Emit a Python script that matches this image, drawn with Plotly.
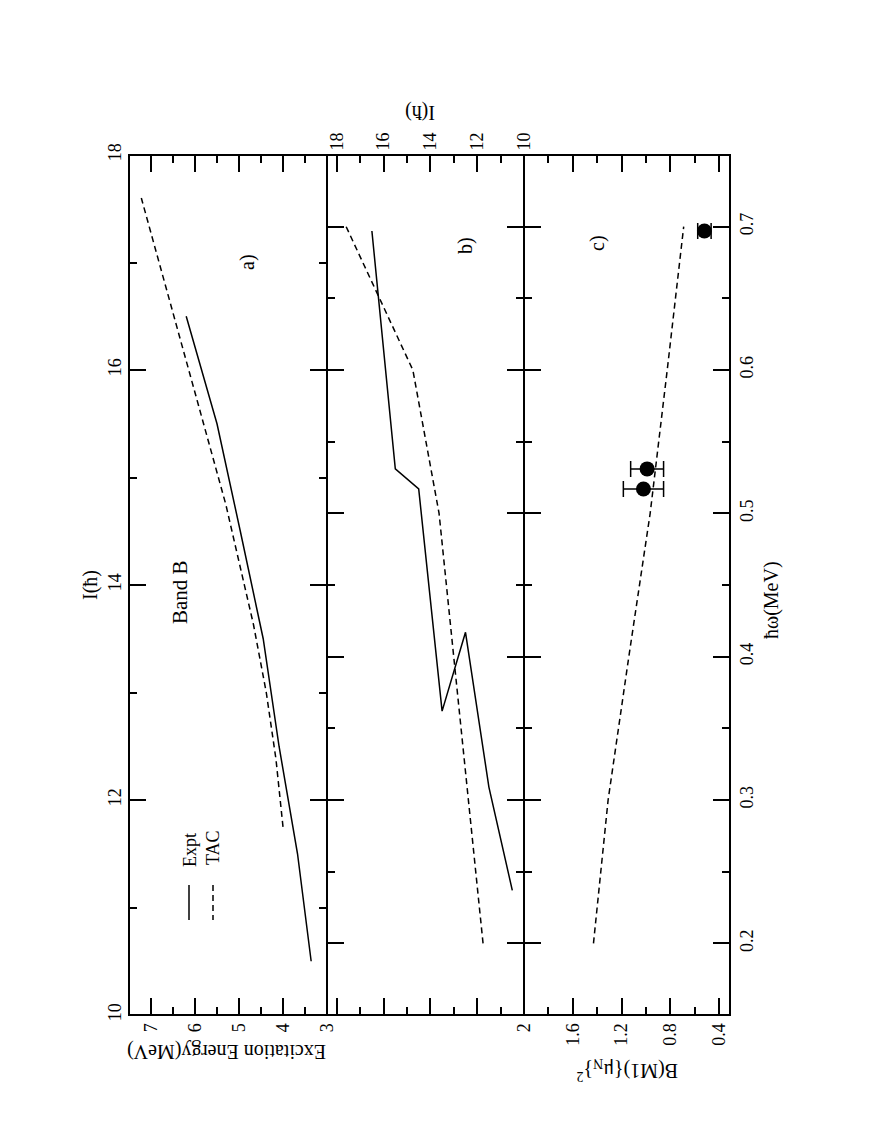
import plotly.graph_objects as go

# ---------------- data ----------------
# Experimental band B
expt_I = [10.5, 11.5, 12.5, 13.5, 14.5, 15.5, 16.5]
expt_E = [3.36, 3.67, 4.09, 4.45, 4.97, 5.50, 6.20]
expt_hw = [0.237, 0.309, 0.417, 0.362, 0.517, 0.531, 0.697]

# TAC calculation
tac_hw = [0.2, 0.3, 0.4, 0.5, 0.6, 0.7]
tac_I = [11.75, 12.38, 13.0, 13.63, 14.75, 17.6]
tac_E = [4.0, 4.16, 4.38, 4.67, 5.30, 7.22]
tac_B = [1.43, 1.31, 1.14, 0.965, 0.825, 0.69]

# Measured B(M1)
bm1_hw = [0.517, 0.531, 0.697]
bm1_B = [1.02, 0.99, 0.52]
bm1_err = [0.165, 0.135, 0.055]

# tick labels
E_ticks = [3, 4, 5, 6, 7]
I_ticks = [10, 12, 14, 16, 18]
B_ticks = [0.4, 0.8, 1.2, 1.6, 2.0]
B_text = ["0.4", "0.8", "1.2", "1.6", "2"]
hw_ticks = [0.2, 0.3, 0.4, 0.5, 0.6, 0.7]

FONT = "Liberation Serif, Times New Roman, serif"
W, H = 884, 1144
OFF = 8  # page body margin of the browser
# frame edges in screenshot pixels
L, R, T, B = 129, 730, 155, 1015


def px(x):
    return (x - L) / (R - L)


def py(y):
    return (B - y) / (B - T)


fig = go.Figure()
solid = dict(color="black", width=1.5)
dashed = dict(color="black", width=1.5, dash="6px,4px")

# panel a: excitation energy vs I
fig.add_trace(go.Scatter(x=expt_E, y=expt_I, mode="lines", line=solid, xaxis="x", yaxis="y"))
fig.add_trace(go.Scatter(x=tac_E, y=tac_I, mode="lines", line=dashed, xaxis="x", yaxis="y"))
# panel b: I vs hw
fig.add_trace(go.Scatter(x=expt_I, y=expt_hw, mode="lines", line=solid, xaxis="x2", yaxis="y2"))
fig.add_trace(go.Scatter(x=tac_I, y=tac_hw, mode="lines", line=dashed, xaxis="x2", yaxis="y2"))
# panel c: B(M1) vs hw
fig.add_trace(go.Scatter(x=tac_B, y=tac_hw, mode="lines", line=dashed, xaxis="x3", yaxis="y3"))
fig.add_trace(go.Scatter(x=bm1_B, y=bm1_hw, mode="markers",
                         marker=dict(color="black", size=15),
                         error_x=dict(type="data", array=bm1_err, color="black",
                                      thickness=1.5, width=8),
                         xaxis="x3", yaxis="y3"))

axcommon = dict(showline=True, linecolor="black", linewidth=1, mirror="ticks",
                ticks="inside", ticklen=17, tickwidth=1.5, tickcolor="black",
                showgrid=False, zeroline=False, tickangle=-90, automargin=False,
                tickfont=dict(family=FONT, size=18, color="black"))


def minor(vals):
    return dict(ticks="inside", ticklen=8, tickwidth=1.5, tickcolor="black",
                tickmode="array", tickvals=vals, showgrid=False)


d1 = px(327)
d2 = px(524)

fig.update_layout(
    width=W, height=H,
    margin=dict(l=L - OFF, r=W - R + OFF, t=T - OFF, b=H - B + OFF, autoexpand=False),
    paper_bgcolor="white", plot_bgcolor="white",
    showlegend=False,
    font=dict(family=FONT, size=20, color="black"),
    xaxis=dict(axcommon, domain=[0, d1], range=[3 + (327 - L) / 44.0, 3],
               anchor="y", side="bottom", tickmode="array", tickvals=E_ticks,
               minor=minor([3.5, 4.5, 5.5, 6.5])),
    yaxis=dict(axcommon, domain=[0, 1], range=[10, 18], anchor="x", side="left",
               tickmode="array", tickvals=I_ticks, minor=minor([11, 13, 15, 17])),
    xaxis2=dict(axcommon, domain=[d1, d2], range=[10 + (524 - 327) / 23.4, 10],
                anchor="y2", side="top", tickmode="array", tickvals=I_ticks,
                minor=minor([11, 13, 15, 17])),
    yaxis2=dict(axcommon, domain=[0, 1], range=[0.15, 0.75], anchor="x2",
                tickmode="array", tickvals=hw_ticks, showticklabels=False,
                minor=minor([0.25, 0.35, 0.45, 0.55, 0.65])),
    xaxis3=dict(axcommon, domain=[d2, 1], range=[2, 2 - (R - 524) / 121.9],
                anchor="y3", side="bottom", tickmode="array", tickvals=B_ticks,
                ticktext=B_text, minor=minor([0.6, 1.0, 1.4, 1.8])),
    yaxis3=dict(axcommon, domain=[0, 1], range=[0.15, 0.75], anchor="x3",
                side="right", tickmode="array", tickvals=hw_ticks,
                minor=minor([0.25, 0.35, 0.45, 0.55, 0.65])),
)

ann = []


def text(s, x, y, angle=-90, size=20):
    ann.append(dict(text=s, x=px(x), y=py(y), xref="paper", yref="paper",
                    xanchor="center", yanchor="middle",
                    showarrow=False, textangle=angle,
                    font=dict(family=FONT, size=size, color="black")))


text("a)", 247, 262)
text("b)", 466, 245)
text("c)", 597, 243)
text("Band B", 180, 592, size=21)
text("Expt", 190, 850, size=18)
text("TAC", 213, 848, size=18)
text("I(ħ)", 90, 585)
text("I(ħ)", 420, 112, angle=180)
text("Excitation Energy(MeV)", 227, 1052, angle=180)
text("B(M1){μ<sub>N</sub>}<sup>2</sup>", 627, 1070, angle=180)
text("ħω(MeV)", 771, 600)
fig.update_layout(annotations=ann)

# frame (drawn once so shared panel borders stay thin)
frame = dict(color="black", width=2)
fig.add_shape(type="rect", xref="paper", yref="paper", x0=0, x1=1, y0=0, y1=1,
              line=frame, layer="above")
for d in (d1, d2):
    fig.add_shape(type="line", xref="paper", yref="paper", x0=d, x1=d, y0=0, y1=1,
                  line=frame, layer="above")

# legend line samples
fig.add_shape(type="line", xref="paper", yref="paper", x0=px(189), x1=px(189),
              y0=py(885), y1=py(920), line=solid)
fig.add_shape(type="line", xref="paper", yref="paper", x0=px(213), x1=px(213),
              y0=py(885), y1=py(920), line=dashed)

fig.write_html("out.html")
